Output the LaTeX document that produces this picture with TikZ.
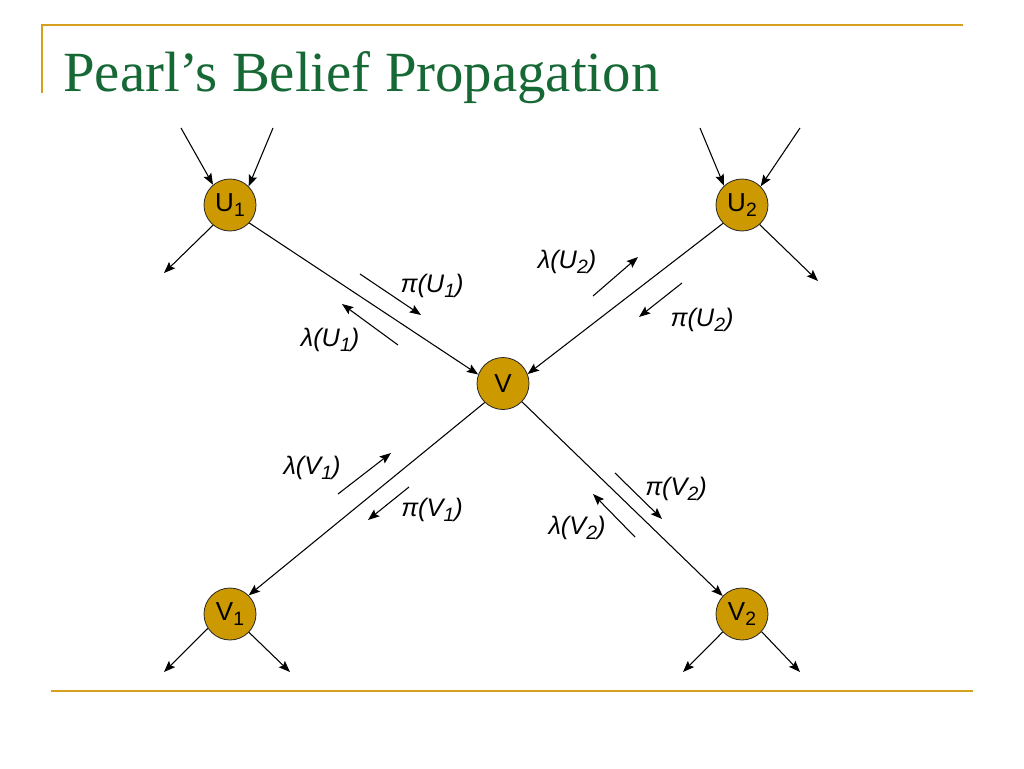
\documentclass[tikz,border=0pt]{standalone}
\usepackage{fontspec}
\setmainfont{Liberation Serif}
\newfontfamily\arialf{Liberation Sans}
\usetikzlibrary{arrows.meta}
\definecolor{goldline}{RGB}{212,160,30}
\definecolor{nodefill}{RGB}{204,153,0}
\definecolor{titlegreen}{RGB}{22,104,52}
\newcommand{\mysub}[1]{\raisebox{-0.22em}{\fontsize{14.5}{14.5}\selectfont #1}}
\tikzset{
  bnode/.style={circle, draw=black!85, line width=0.6pt, fill=nodefill, minimum size=39pt, inner sep=0pt, font=\arialf\fontsize{19.5}{19.5}\selectfont},
  edge/.style={line width=0.8pt, -{Stealth[length=8.5pt,width=6.5pt,inset=1.5pt]}},
  msg/.style={line width=0.8pt, -{Stealth[length=8.5pt,width=6.5pt,inset=1.5pt]}},
  lbl/.style={inner sep=0pt, font=\arialf\itshape\fontsize{19}{19}\selectfont},
  frame/.style={draw=goldline, line width=2pt}
}
\begin{document}
\begin{tikzpicture}[x=0.75pt,y=-0.75pt]
\useasboundingbox[fill=white] (0,0) rectangle (1024,768);
% frame lines
\coordinate (ft0) at (42,93);
\coordinate (ft1) at (42,25);
\coordinate (ft2) at (963,25);
\draw[frame] (ft0) -- (ft1) -- (ft2);
\coordinate (fb1) at (51,691);
\coordinate (fb2) at (973,691);
\draw[frame] (fb1) -- (fb2);
% title
\node[anchor=base west, inner sep=0pt, text=titlegreen, font=\fontsize{42.6}{42.6}\selectfont] (title) at (63,91) {Pearl’s Belief Propagation};
% nodes
\node[bnode] (U1) at (230,205) {U\mysub{1}};
\node[bnode] (U2) at (742,205) {U\mysub{2}};
\node[bnode] (V) at (503,383.5) {V};
\node[bnode] (V1) at (230,614) {V\mysub{1}};
\node[bnode] (V2) at (742,614) {V\mysub{2}};
% free ends
\coordinate (u1a) at (181,128);
\coordinate (u1b) at (273,128);
\coordinate (u1c) at (164,273);
\coordinate (u2a) at (700,128);
\coordinate (u2b) at (800,128);
\coordinate (u2c) at (818,281);
\coordinate (v1a) at (164,672);
\coordinate (v1b) at (290,672);
\coordinate (v2a) at (683,672);
\coordinate (v2b) at (800,672);
% connectors
\draw[edge] (u1a) -- (U1.130);
\draw[edge] (u1b) -- (U1.45);
\draw[edge] (U1.230) -- (u1c);
\draw[edge] (u2a) -- (U2.133);
\draw[edge] (u2b) -- (U2.45);
\draw[edge] (U2.312) -- (u2c);
\draw[edge] (U1.317) -- (V.160);
\draw[edge] (U2.224) -- (V.21);
\draw[edge] (V.226) -- (V1.45);
\draw[edge] (V.316) -- (V2.137);
\draw[edge] (V1.213) -- (v1a);
\draw[edge] (V1.316) -- (v1b);
\draw[edge] (V2.223) -- (v2a);
\draw[edge] (V2.318) -- (v2b);
% message arrows
\coordinate (m1s) at (360,274); \coordinate (m1e) at (421,315);
\coordinate (m2s) at (398,345); \coordinate (m2e) at (342,304);
\coordinate (m3s) at (593,296); \coordinate (m3e) at (638,257);
\coordinate (m4s) at (682,283); \coordinate (m4e) at (639,317);
\coordinate (m5s) at (338,494); \coordinate (m5e) at (391,453);
\coordinate (m6s) at (409,487); \coordinate (m6e) at (368,520);
\coordinate (m7s) at (615,473); \coordinate (m7e) at (662,519);
\coordinate (m8s) at (635,537); \coordinate (m8e) at (593,494);
\draw[msg] (m1s) -- (m1e);
\draw[msg] (m2s) -- (m2e);
\draw[msg] (m3s) -- (m3e);
\draw[msg] (m4s) -- (m4e);
\draw[msg] (m5s) -- (m5e);
\draw[msg] (m6s) -- (m6e);
\draw[msg] (m7s) -- (m7e);
\draw[msg] (m8s) -- (m8e);
% labels
\node[lbl] (l1) at (432,286) {π(U\mysub{1})};
\node[lbl] (l2) at (330,340) {λ(U\mysub{1})};
\node[lbl] (l3) at (567,262) {λ(U\mysub{2})};
\node[lbl] (l4) at (702,320) {π(U\mysub{2})};
\node[lbl] (l5) at (312,468) {λ(V\mysub{1})};
\node[lbl] (l6) at (432,510) {π(V\mysub{1})};
\node[lbl] (l7) at (676,489) {π(V\mysub{2})};
\node[lbl] (l8) at (577,528) {λ(V\mysub{2})};
\end{tikzpicture}
\end{document}
